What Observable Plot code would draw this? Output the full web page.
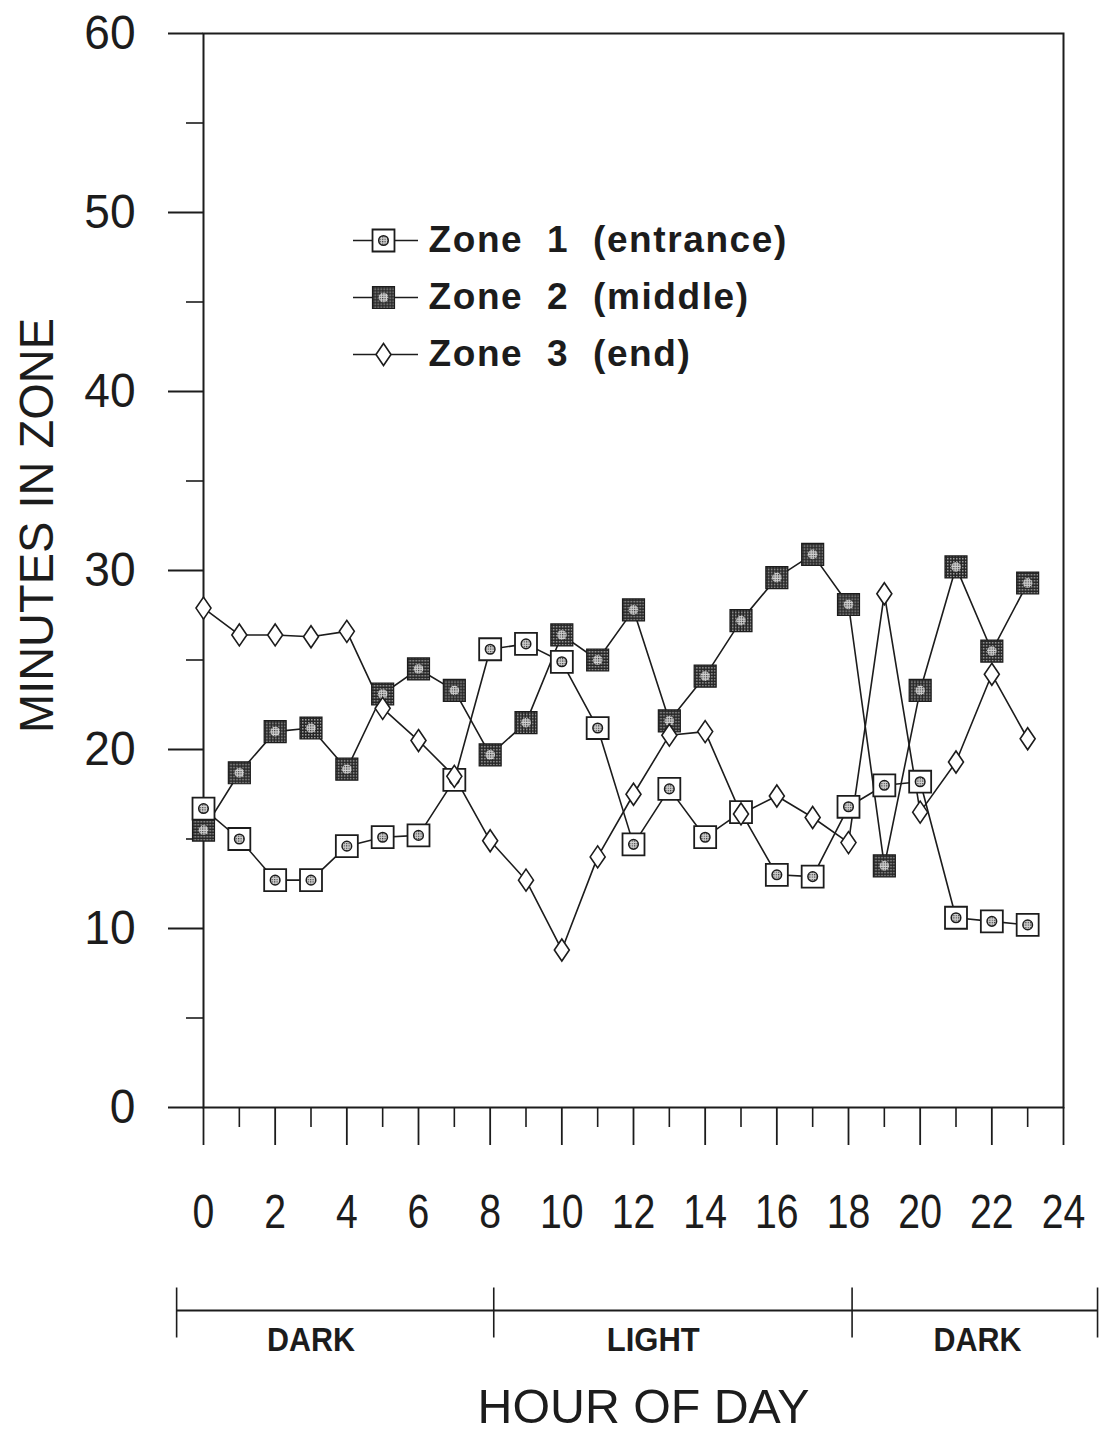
<!DOCTYPE html>
<html><head><meta charset="utf-8">
<script src="https://cdn.jsdelivr.net/npm/d3@7"></script>
<script src="https://cdn.jsdelivr.net/npm/@observablehq/plot@0.6"></script>
<style>
body{margin:0;background:#fff}
#chart{position:relative;width:1099px;height:1433px}
</style>
</head><body>
<svg width="0" height="0" style="position:absolute">
<defs>
<pattern id="checker" width="3" height="3" patternUnits="userSpaceOnUse">
<rect width="3" height="3" fill="#262626"/><rect width="1.5" height="1.5" fill="#a0a0a0"/>
</pattern>
<pattern id="dotfill" width="2.4" height="2.4" patternUnits="userSpaceOnUse">
<rect width="2.4" height="2.4" fill="#d0d0d0"/><rect width="1.2" height="1.2" fill="#444"/>
</pattern>
</defs>
</svg>
<div id="chart"></div>
<script>
// ---- data ----
const hours = [0,1,2,3,4,5,6,7,8,9,10,11,12,13,14,15,16,17,18,19,20,21,22,23];
const zone1 = [16.7,15.0,12.7,12.7,14.6,15.1,15.2,18.3,25.6,25.9,24.9,21.2,14.7,17.8,15.1,16.5,13.0,12.9,16.8,18.0,18.2,10.6,10.4,10.2];
const zone2 = [15.5,18.7,21.0,21.2,18.9,23.1,24.5,23.3,19.7,21.5,26.4,25.0,27.8,21.6,24.1,27.2,29.6,30.9,28.1,13.5,23.3,30.2,25.5,29.3];
const zone3 = [27.9,26.4,26.4,26.3,26.6,22.3,20.5,18.5,14.9,12.7,8.8,14.0,17.5,20.8,21.0,16.4,17.4,16.2,14.8,28.7,16.5,19.3,24.2,20.6];
const seriesNames = ["Zone\u00a0\u00a01\u00a0\u00a0(entrance)", "Zone\u00a0\u00a02\u00a0\u00a0(middle)", "Zone\u00a0\u00a03\u00a0\u00a0(end)"];
const majorHourTicks = [0,2,4,6,8,10,12,14,16,18,20,22,24];
const minorHourTicks = [1,3,5,7,9,11,13,15,17,19,21,23];
const majorMinuteTicks = [0,10,20,30,40,50,60];
const minorMinuteTicks = [5,15,25,35,45,55];
const phaseLabels = ["DARK","LIGHT","DARK"];
const phaseEdges = [-0.75, 8.1, 18.1, 24.95];   // hour positions of the light/dark bar dividers as drawn
const phaseLabelAt = [3.0, 12.55, 21.6];
const xTitle = "HOUR OF DAY";
const yTitle = "MINUTES IN ZONE";

// ---- build ----
const INK = "#1c1c1c";
const FONT = "'Liberation Sans',Arial,sans-serif";
const rowsFor = (vals, z) => hours.map((h, i) => ({hour: h, value: vals[i], zone: z}));
const r1 = rowsFor(zone1, 1), r2 = rowsFor(zone2, 2), r3 = rowsFor(zone3, 3);
const allRows = [...r1, ...r2, ...r3];

const tallDiamond = {draw(ctx, size) {
  const w = Math.sqrt(size * 15 / 44), h = w * 22 / 15;
  ctx.moveTo(0, -h); ctx.lineTo(w, 0); ctx.lineTo(0, h); ctx.lineTo(-w, 0); ctx.closePath();
}};
const hline = {draw(ctx) { ctx.moveTo(-32.5, 0); ctx.lineTo(32.5, 0); }};
const vline = {draw(ctx) { ctx.moveTo(0, -25); ctx.lineTo(0, 25); }};

const sqR = 12.4, dmR = 7.25, inR = 4.8;
const markerMarks = (data, zone, opts) => {
  if (zone === 1) return [
    Plot.dot(data, {...opts, symbol: "square", r: sqR, fill: "white", stroke: INK, strokeWidth: 1.8}),
    Plot.dot(data, {...opts, r: inR, fill: "url(#dotfill)", stroke: INK, strokeWidth: 1.5})
  ];
  if (zone === 2) return [
    Plot.dot(data, {...opts, symbol: "square", r: sqR, fill: "url(#checker)", stroke: INK, strokeWidth: 1.2}),
    Plot.dot(data, {...opts, r: inR, fill: "url(#dotfill)", stroke: "none"})
  ];
  return [Plot.dot(data, {...opts, symbol: tallDiamond, r: dmR, fill: "white", stroke: INK, strokeWidth: 1.6})];
};

const legendMarks = seriesNames.flatMap((name, i) => {
  const dy = 207 + i * 57;
  const pos = {frameAnchor: "top-left", dy};
  return [
    Plot.dot([name], {...pos, dx: 182, symbol: hline, fill: "none", stroke: INK, strokeWidth: 1.6}),
    ...markerMarks([name], i + 1, {...pos, dx: 180}),
    Plot.text([name], {...pos, dx: 225, text: d => d, textAnchor: "start", lineAnchor: "middle",
      fontSize: 37, fontWeight: "bold", fill: INK})
  ];
});

const chart = Plot.plot({
  width: 1099, height: 1433,
  marginLeft: 203, marginRight: 36, marginTop: 33, marginBottom: 326,
  x: {domain: [0, 24], axis: null},
  y: {domain: [0, 60], axis: null},
  style: {fontFamily: FONT, color: INK, background: "#fff", overflow: "visible"},
  marks: [
    Plot.frame({stroke: INK, strokeWidth: 2}),
    Plot.axisY(majorMinuteTicks, {anchor: "left", tickSize: 35, tickPadding: 33, fontSize: 49, strokeWidth: 2, label: null}),
    Plot.axisY(minorMinuteTicks, {anchor: "left", tickSize: 17, strokeWidth: 1.6, tickFormat: () => "", label: null}),
    Plot.axisX(majorHourTicks, {anchor: "bottom", tickSize: 38, tickPadding: 48, fontSize: 49, strokeWidth: 1.8, label: null}),
    Plot.axisX(minorHourTicks, {anchor: "bottom", tickSize: 20, strokeWidth: 1.6, tickFormat: () => "", label: null}),
    Plot.line(allRows, {x: "hour", y: "value", z: "zone", stroke: INK, strokeWidth: 1.6}),
    ...markerMarks(r2, 2, {x: "hour", y: "value"}),
    ...markerMarks(r1, 1, {x: "hour", y: "value"}),
    ...markerMarks(r3, 3, {x: "hour", y: "value"}),
    ...legendMarks,
    // light/dark bar
    Plot.ruleY([{start: phaseEdges[0], end: phaseEdges[phaseEdges.length - 1]}],
      {y: () => 0, x1: "start", x2: "end", dy: 203, stroke: INK, strokeWidth: 1.8}),
    Plot.dot(phaseEdges, {x: d => d, y: () => 0, dy: 205, symbol: vline, fill: "none", stroke: INK, strokeWidth: 1.6}),
    Plot.text(phaseLabels, {x: (d, i) => phaseLabelAt[i], y: () => 0, dy: 233, text: d => d,
      fontSize: 34, fontWeight: 600, fill: INK}),
    Plot.text([xTitle], {frameAnchor: "bottom", textAnchor: "middle", lineAnchor: "middle", dx: 10, dy: 300,
      text: d => d, fontSize: 48, fill: INK}),
    Plot.text([yTitle], {frameAnchor: "left", textAnchor: "middle", lineAnchor: "middle", dx: -166, dy: -45,
      rotate: -90, text: d => d, fontSize: 48, fill: INK})
  ]
});
document.getElementById("chart").append(chart);

// condensed lettering of the original: squeeze glyphs horizontally
const squeeze = (el, factor, target) => {
  const len = el.getComputedTextLength();
  if (!len) return;
  el.setAttribute("textLength", target != null ? target : len * factor);
  el.setAttribute("lengthAdjust", "spacingAndGlyphs");
};
d3.select(chart).selectAll("text").each(function() {
  const t = this.textContent.trim();
  const g = this.closest("g");
  const aria = g ? (g.getAttribute("aria-label") || "") : "";
  if (t === yTitle) squeeze(this, 0, 415);
  else if (t === xTitle) squeeze(this, 0, 332);
  else if (phaseLabels.includes(t)) squeeze(this, 0, t === "LIGHT" ? 93 : 88);
  else if (seriesNames.includes(this.textContent)) this.style.letterSpacing = "1.6px";
  else if (/^\d+$/.test(t)) {
    if (aria.startsWith("x-axis")) squeeze(this, 0.8);
    else if (aria.startsWith("y-axis")) squeeze(this, 0.94);
  }
});
</script>
</body></html>
